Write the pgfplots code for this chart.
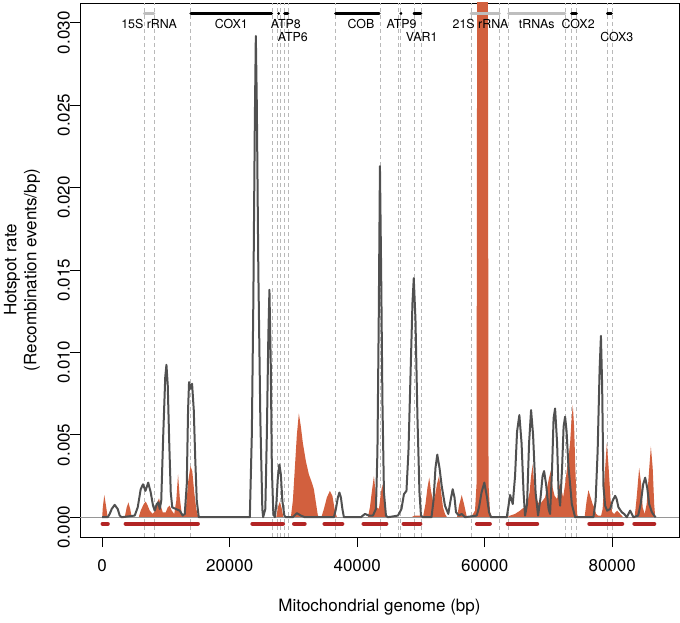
\documentclass[border=0pt]{standalone}
\usepackage{pgfplots}
\pgfplotsset{compat=1.18}
\usepackage{fontspec}
\setmainfont{TeX Gyre Heros}
\definecolor{orangec}{RGB}{210,96,62}
\definecolor{redseg}{RGB}{178,36,36}
\definecolor{curve}{RGB}{80,80,80}
\definecolor{dashc}{RGB}{185,185,185}
\definecolor{genegray}{RGB}{190,190,190}
\definecolor{zeroc}{RGB}{150,150,150}
\newcommand{\mainfont}{\fontsize{17}{20}\selectfont}
\newcommand{\genefont}{\fontsize{12.4}{14}\selectfont}
\begin{document}
\begin{tikzpicture}
\begin{axis}[
  width=599pt, height=534pt, scale only axis,
  xmin=-3480, xmax=90480, ymin=-0.0012, ymax=0.0312,
  axis line style={line width=0.8pt},
  tick align=outside, major tick length=10pt,
  tick style={black, line width=0.8pt},
  xtick pos=bottom, ytick pos=left,
  xtick={0,20000,40000,60000,80000},
  xticklabels={0,20000,40000,60000,80000},
  ytick={0,0.005,0.01,0.015,0.02,0.025,0.03},
  yticklabels={0.000,0.005,0.010,0.015,0.020,0.025,0.030},
  ticklabel style={font=\mainfont},
  xticklabel style={inner sep=0pt, anchor=north, yshift=-12pt},
  yticklabel style={rotate=90, anchor=south, inner sep=0pt, xshift=-10pt},
  scaled ticks=false,
  unbounded coords=jump,
  /pgf/number format/assume math mode=true,
]
% dashed gene boundaries
\addplot[dashc, line width=0.7pt, dash pattern=on 4pt off 3pt] coordinates {
(6546,-0.0012) (6546,0.0312) (6546,nan)
(8194,-0.0012) (8194,0.0312) (8194,nan)
(13818,-0.0012) (13818,0.0312) (13818,nan)
(26701,-0.0012) (26701,0.0312) (26701,nan)
(27506,-0.0012) (27506,0.0312) (27506,nan)
(27977,-0.0012) (27977,0.0312) (27977,nan)
(28574,-0.0012) (28574,0.0312) (28574,nan)
(29233,-0.0012) (29233,0.0312) (29233,nan)
(36540,-0.0012) (36540,0.0312) (36540,nan)
(43647,-0.0012) (43647,0.0312) (43647,nan)
(46394,-0.0012) (46394,0.0312) (46394,nan)
(46786,-0.0012) (46786,0.0312) (46786,nan)
(48901,-0.0012) (48901,0.0312) (48901,nan)
(50097,-0.0012) (50097,0.0312) (50097,nan)
(57855,-0.0012) (57855,0.0312) (57855,nan)
(62329,-0.0012) (62329,0.0312) (62329,nan)
(63742,-0.0012) (63742,0.0312) (63742,nan)
(72613,-0.0012) (72613,0.0312) (72613,nan)
(73555,-0.0012) (73555,0.0312) (73555,nan)
(74449,-0.0012) (74449,0.0312) (74449,nan)
(79213,-0.0012) (79213,0.0312) (79213,nan)
(80022,-0.0012) (80022,0.0312)
};
% orange area
\addplot[draw=none, fill=orangec] coordinates {
(0,0) (100,0.0006) (330,0.00135) (600,0.0007) (860,0)
(3533,0) (3847,0.0006) (4113,0.0009) (4396,0.0005) (4632,0)
(5731,0) (6045,0.0004) (6516,0.0008) (6830,0.00095) (7144,0.0007) (7458,0.0004)
(7929,0.0002) (8321,0.0004) (8635,0.0009) (8918,0.00115) (9185,0.0007) (9499,0.0003)
(9970,0.0003) (10284,0.0006) (10598,0.0007) (10912,0.0004) (11304,0.0002)
(11618,0.0010) (11901,0.0026) (12168,0.0012) (12482,0.0002) (12874,0.0001)
(13188,0.0008) (13502,0.0022) (13847,0.0031) (14130,0.0028) (14444,0.0015) (14758,0.0005) (15072,0)
(27318,0) (27554,0.0006) (27868,0.00095) (28182,0.0005) (28417,0)
(29595,0) (29909,0.0010) (30223,0.0030) (30537,0.0050) (30851,0.0063) (31165,0.0055)
(31479,0.0045) (31950,0.0034) (32421,0.0026) (32892,0.0021) (33206,0.0017) (33520,0.0009)
(33834,0.0001) (34148,0)
(34383,0) (34776,0.0005) (35247,0.0012) (35718,0.0016) (36110,0.0013) (36503,0.0004) (36817,0)
(41684,0) (41998,0.0006) (42312,0.0016) (42626,0.0025) (42861,0.0016) (43097,0.0006)
(43411,0.0005) (43726,0.0015) (43960,0.0020) (44196,0.0012) (44510,0.0001) (44667,0)
(48500,0) (49000,0.0001) (49900,0.0001) (50319,0)
(50711,0.0008) (51025,0.0018) (51308,0.0024) (51575,0.0016) (51889,0.0010) (52203,0.0013)
(52517,0.0020) (52831,0.0025) (53145,0.0016) (53459,0.0006) (53773,0.0002) (54087,0)
(55657,0) (55971,0.0007) (56394,0.00135) (56756,0.0008) (57148,0.0001) (57384,0)
(57855,0) (58169,0.0002) (58483,0.0004) (58718,0.002) (58875,0.05) (60445,0.05)
(60602,0.002) (60838,0.0003) (61152,0)
(63507,0) (63978,0.0001) (64763,0.0002) (65548,0.0004) (66176,0.0006) (66647,0.0008)
(67039,0.0015) (67275,0.0025) (67541,0.0032) (67746,0.0020) (68060,0.0012) (68374,0.0009)
(68688,0.0008) (69080,0.0010) (69473,0.0012) (69787,0.0018) (70101,0.0024) (70367,0.0028)
(70650,0.0018) (70964,0.0013) (71357,0.0011) (71749,0.0020) (71985,0.0018) (72299,0.0012)
(72613,0.0020) (72927,0.0030) (73162,0.0037) (73398,0.0045) (73633,0.0060) (73821,0.0068)
(74026,0.0055) (74261,0.0025) (74497,0.0002) (74654,0)
(75674,0) (75988,0.0010) (76271,0.00165) (76616,0.0012) (76930,0.0008) (77166,0.0006)
(77480,0.0002) (77794,0.0001) (78265,0.0001) (78500,0.0005) (78814,0.0025) (79159,0.0045)
(79442,0.0030) (79756,0.0010) (79992,0.0003) (80306,0.0002) (80777,0.0004) (81248,0.0002) (81719,0)
(83524,0) (83838,0.0012) (84231,0.0030) (84545,0.0020) (84780,0.0006) (85094,0.0002)
(85408,0.0008) (85722,0.0025) (86067,0.0043) (86350,0.0030) (86586,0.0008) (86743,0)
};
% zero line
\addplot[zeroc, line width=0.8pt] coordinates {(-3480,0) (90480,0)};
% hotspot rate curve
\addplot[curve, line width=2pt, line join=round] coordinates {
(0,0) (864,0) (1178,0.0002) (1492,0.0005) (1963,0.00075) (2434,0.0005) (2748,0.0001) (3062,0)
(5103,0.0001) (5574,0.0006) (6045,0.0017) (6406,0.0020) (6782,0.0016) (7222,0.0021)
(7615,0.0015) (7976,0.0007) (8243,0.0004) (8557,0.0008) (8792,0.0009) (9028,0.0005)
(9263,0.0010) (9577,0.0050) (9891,0.0085) (10079,0.00925) (10284,0.0080) (10519,0.0045)
(10755,0.0015) (10990,0.0006) (11540,0.0005) (12168,0.0004) (12639,0.0001) (12953,0.0002)
(13267,0.0020) (13471,0.0065) (13628,0.0082) (13847,0.0078) (14099,0.0081) (14366,0.0065)
(14601,0.0035) (14837,0.0010) (15151,0)
(23158,0) (23472,0.005) (23707,0.013) (23943,0.024) (24100,0.0292) (24257,0.025)
(24492,0.015) (24806,0.006) (25120,0.0005) (25246,0) (25591,0.0005) (25827,0.005)
(26062,0.011) (26235,0.0138) (26455,0.009) (26612,0.003) (26847,0.0002) (27083,0)
(27318,0.0008) (27554,0.0024) (27789,0.0032) (28025,0.0026) (28260,0.0010) (28574,0.0001) (28810,0)
(29909,0) (30537,0.00025) (31165,0.0001) (31793,0)
(36346,0) (36660,0.0005) (36974,0.0012) (37209,0.0015) (37445,0.0012) (37680,0.0005) (37916,0)
(40585,0) (41213,0.0002) (41841,0.0001) (42469,0.0001) (42940,0.0005) (43175,0.004)
(43379,0.012) (43568,0.0213) (43756,0.015) (43960,0.007) (44196,0.0015) (44510,0.0001) (44824,0)
(46394,0.0001) (46943,0.0005) (47336,0.0014) (47728,0.0016) (48042,0.004) (48356,0.0085)
(48670,0.013) (48874,0.0145) (49141,0.012) (49455,0.006) (49769,0.0015) (50005,0.0001) (50319,0)
(51653,0) (51967,0.001) (52281,0.003) (52564,0.0038) (52909,0.003) (53254,0.0019)
(53773,0.0007) (54291,0.0002) (54636,0.0010) (54981,0.0017) (55264,0.0012) (55500,0.0003)
(55971,0.0001) (56394,0.0002) (56913,0)
(58749,0.0001) (59111,0.0006) (59503,0.0015) (59943,0.0021) (60367,0.0012) (60681,0.0003) (60995,0)
(63459,0) (63742,0.0007) (63978,0.00135) (64401,0.0008) (64763,0.0025) (65077,0.0052)
(65438,0.0062) (65783,0.0045) (66097,0.0015) (66333,0.0001) (66647,0.0008) (66961,0.0045)
(67275,0.0065) (67589,0.0050) (67981,0.0015) (68374,0.0001) (68766,0.0012) (69080,0.0025)
(69316,0.0028) (69630,0.0020) (70022,0.0005) (70258,0.0002) (70572,0.0030) (70807,0.0060)
(71043,0.0066) (71357,0.0045) (71592,0.0015) (71828,0.0007) (72142,0.0030) (72377,0.0055)
(72613,0.0061) (72848,0.0052) (73131,0.0031) (73398,0.0020) (73664,0.0008) (74183,0)
(77056,0) (77401,0.0010) (77715,0.0040) (78029,0.0090) (78233,0.0110) (78422,0.0080)
(78626,0.0019) (78893,0.0007) (79207,0.0004) (79678,0.0005) (80070,0.0010) (80463,0.0013)
(80698,0.0011) (80981,0.0006) (81514,0.0003) (81876,0.0002) (82299,0) (82818,0.0004)
(83336,0) (84074,0.0001) (84466,0.0008) (84859,0.0020) (85173,0.0024) (85487,0.0018)
(85801,0.0008) (86224,0.0003) (86586,0.0001) (86821,0)
};
% red segments
\addplot[redseg, line width=4.3pt, line cap=round] coordinates {
(79,-0.0004) (864,-0.0004) (864,nan)
(3690,-0.0004) (14994,-0.0004) (14994,nan)
(23581,-0.0004) (28339,-0.0004) (28339,nan)
(30113,-0.0004) (31745,-0.0004) (31745,nan)
(34885,-0.0004) (37649,-0.0004) (37649,nan)
(41008,-0.0004) (44557,-0.0004) (44557,nan)
(47288,-0.0004) (49895,-0.0004) (49895,nan)
(58797,-0.0004) (60790,-0.0004) (60790,nan)
(63616,-0.0004) (68217,-0.0004) (68217,nan)
(76428,-0.0004) (81562,-0.0004) (81562,nan)
(83493,-0.0004) (86586,-0.0004)
};
% gene bars (grey: rRNA / tRNA)
\addplot[genegray, line width=2.8pt, line cap=round] coordinates {
(6600,0.03058) (8120,0.03058) (8120,nan)
(57850,0.03058) (62300,0.03058) (62300,nan)
(63750,0.03058) (72600,0.03058)
};
% gene bars (black: protein coding)
\addplot[black, line width=2.8pt, line cap=round] coordinates {
(13900,0.03058) (26600,0.03058) (26600,nan)
(27663,0.03058) (27700,0.03058) (27700,nan)
(28600,0.03058) (29150,0.03058) (29150,nan)
(36600,0.03058) (43450,0.03058) (43450,nan)
(46850,0.03058) (46880,0.03058) (46880,nan)
(48900,0.03058) (50000,0.03058) (50000,nan)
(73620,0.03058) (74380,0.03058) (74380,nan)
(79250,0.03058) (79870,0.03058)
};
\node[font=\genefont] at (axis cs:7370,0.02991) {15S rRNA};
\node[font=\genefont] at (axis cs:20260,0.02991) {COX1};
\node[font=\genefont] at (axis cs:28810,0.02991) {ATP8};
\node[font=\genefont] at (axis cs:29909,0.02915) {ATP6};
\node[font=\genefont] at (axis cs:40585,0.02991) {COB};
\node[font=\genefont] at (axis cs:46974,0.02991) {ATP9};
\node[font=\genefont] at (axis cs:50114,0.02915) {VAR1};
\node[font=\genefont] at (axis cs:59346,0.02991) {21S rRNA};
\node[font=\genefont] at (axis cs:68170,0.02991) {tRNAs};
\node[font=\genefont] at (axis cs:74654,0.02991) {COX2};
\node[font=\genefont] at (axis cs:80729,0.02915) {COX3};
\end{axis}
\node[font=\mainfont] at (299.5pt,-70pt) {Mitochondrial genome (bp)};
\node[font=\mainfont, rotate=90, align=center] at (-58pt,267pt) {Hotspot rate\\(Recombination events/bp)};
\pgfresetboundingbox
\useasboundingbox (-80pt,-85pt) rectangle (600pt,537pt);
\end{tikzpicture}
\end{document}
